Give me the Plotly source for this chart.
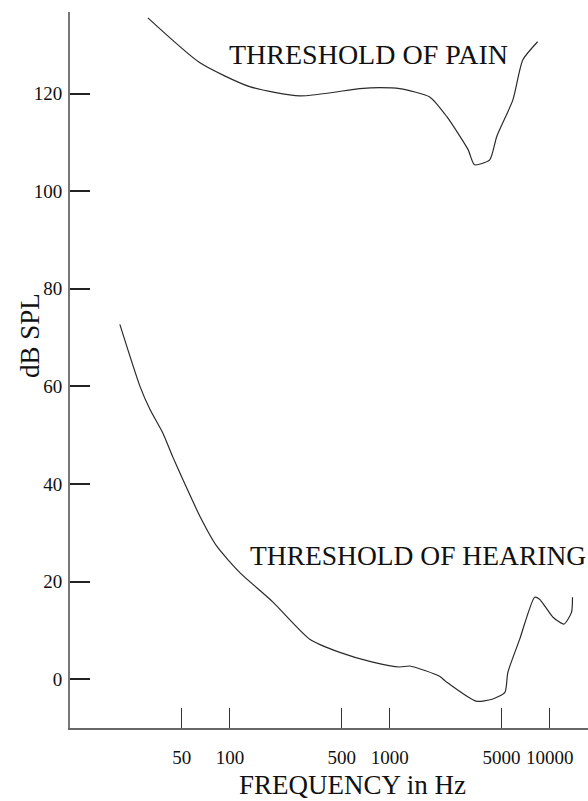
import plotly.graph_objects as go

# Threshold of pain (frequency Hz, dB SPL)
pain_freq = [30.7, 65, 133, 274, 650, 866, 1155, 1778, 2270, 3090, 3390, 4217, 4670, 5890, 6800, 8410]
pain_db = [135.5, 126.3, 121.4, 119.5, 121.0, 121.2, 121.0, 119.3, 115.3, 108.5, 105.4, 106.4, 111.2, 118.7, 126.9, 130.6]

# Threshold of hearing
hear_freq = [20.5, 27.4, 31.6, 38.0, 44.0, 50.8, 64.9, 83, 115, 186, 316, 487, 782, 1155, 1333,
             2050, 2270, 3470, 4370, 5250, 5480, 6500, 8060, 8650, 10500, 12300, 13700, 13900]
hear_db = [72.7, 60.0, 55.3, 50.5, 45.5, 40.9, 33.4, 27.2, 21.9, 15.8, 8.2, 5.5, 3.5, 2.5, 2.7,
           0.6, -0.6, -4.5, -4.1, -2.7, 1.4, 8.2, 16.8, 16.4, 12.7, 11.3, 13.7, 16.8]

x_ticks = [50, 100, 500, 1000, 5000, 10000]
x_tick_text = ["50", "100", "500", "1000", "5000", "10000"]
y_ticks = [0, 20, 40, 60, 80, 100, 120]

FONT = "Liberation Serif, Times New Roman, serif"
LINE = dict(color="#2a2a2a", width=1.2, shape="spline", smoothing=0.6)

W, H = 588, 801
L, R, T = 70, 0, 12
B = H - 728
PW, PH = W - L - R, H - T - B


def px_x(x):
    return (x - L) / PW


def px_y(y):
    return (H - B - y) / PH


fig = go.Figure()
fig.add_trace(go.Scatter(x=pain_freq, y=pain_db, mode="lines", line=LINE, hoverinfo="skip"))
fig.add_trace(go.Scatter(x=hear_freq, y=hear_db, mode="lines", line=LINE, hoverinfo="skip"))

fig.add_annotation(x=1.98, y=127.9, xref="x", yref="y", text="THRESHOLD OF PAIN",
                   showarrow=False, xanchor="left", yanchor="middle",
                   font=dict(family=FONT, size=28, color="#111"))
fig.add_annotation(x=2.1125, y=25.4, xref="x", yref="y", text="THRESHOLD OF HEARING",
                   showarrow=False, xanchor="left", yanchor="middle",
                   font=dict(family=FONT, size=27.5, color="#111"))
fig.add_annotation(x=px_x(352), y=px_y(785), xref="paper", yref="paper", text="FREQUENCY in Hz",
                   showarrow=False, xanchor="center", yanchor="middle",
                   font=dict(family=FONT, size=27, color="#111"))
fig.add_annotation(x=px_x(30), y=px_y(336), xref="paper", yref="paper",
                   text="dB SPL", textangle=-90, showarrow=False,
                   xanchor="center", yanchor="middle",
                   font=dict(family=FONT, size=27, color="#111"))

fig.update_layout(
    width=W, height=H,
    margin=dict(l=L, r=R, t=T, b=B, autoexpand=False),
    paper_bgcolor="white", plot_bgcolor="white",
    showlegend=False,
    font=dict(family=FONT, color="#111"),
)

fig.update_xaxes(
    type="log", range=[1.0, 4.24],
    tickvals=x_ticks, ticktext=x_tick_text,
    ticks="inside", ticklen=20, tickwidth=1, tickcolor="#333",
    showline=True, linecolor="#666", linewidth=1.5,
    showgrid=False, zeroline=False, automargin=False,
    tickfont=dict(family=FONT, size=19, color="#111"),
    ticklabelstandoff=11,
)
fig.update_yaxes(
    range=[-10, 136.7],
    tickvals=y_ticks,
    ticks="inside", ticklen=20, tickwidth=2, tickcolor="#222",
    showline=True, linecolor="#777", linewidth=2,
    showgrid=False, zeroline=False, automargin=False,
    tickfont=dict(family=FONT, size=19, color="#111"),
    ticklabelstandoff=2,
)

fig.write_html(
    "out.html",
    config={"displayModeBar": False},
    post_script="document.body.style.margin='0';document.body.style.overflow='hidden';",
)
